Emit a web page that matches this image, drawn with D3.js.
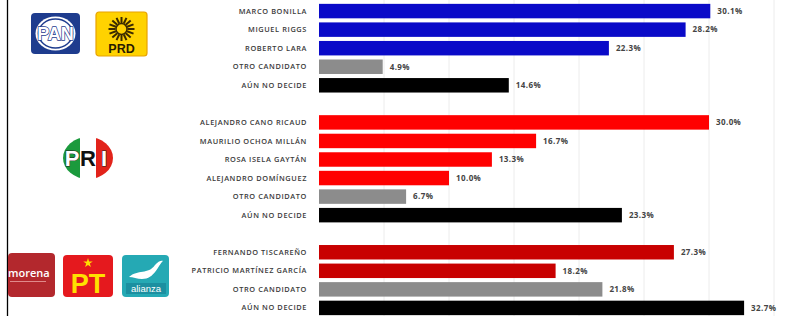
<!DOCTYPE html>
<html>
<head>
<meta charset="utf-8">
<script src="https://cdn.jsdelivr.net/npm/d3@7"></script>
<style>
  body { margin: 0; background: #fff; }
  .name { font-family: "Open Sans", sans-serif; font-size: 7.4px; font-weight: 600; fill: #3a3a3a; letter-spacing: 0.6px; }
  .val { font-family: "Open Sans", sans-serif; font-size: 8px; font-weight: 700; fill: #444; letter-spacing: 0.4px; }
</style>
</head>
<body>
<script>
(function(){

//candidates per alliance
var panNames = ["MARCO BONILLA", "MIGUEL RIGGS", "ROBERTO LARA", "OTRO CANDIDATO", "AÚN NO DECIDE"];
var panValues = [30.1, 28.2, 22.3, 4.9, 14.6];
var panColors = ["#0a0ac8", "#0a0ac8", "#0a0ac8", "#8c8c8c", "#000000"];

var priNames = ["ALEJANDRO CANO RICAUD", "MAURILIO OCHOA MILLÁN", "ROSA ISELA GAYTÁN", "ALEJANDRO DOMÍNGUEZ", "OTRO CANDIDATO", "AÚN NO DECIDE"];
var priValues = [30.0, 16.7, 13.3, 10.0, 6.7, 23.3];
var priColors = ["#ff0000", "#ff0000", "#ff0000", "#ff0000", "#8c8c8c", "#000000"];

var morNames = ["FERNANDO TISCAREÑO", "PATRICIO MARTÍNEZ GARCÍA", "OTRO CANDIDATO", "AÚN NO DECIDE"];
var morValues = [27.3, 18.2, 21.8, 32.7];
var morColors = ["#c80000", "#c80000", "#8c8c8c", "#000000"];

var gridTicks = [5, 10, 15, 20, 25, 30, 35];

var width = 793, height = 316;

//build rows with a spacer between groups
var rows = [];
function addGroup(names, values, colors, g){
    names.forEach(function(n, i){
        rows.push({key: g + "-" + i, name: n, value: values[i], color: colors[i]});
    });
}
addGroup(panNames, panValues, panColors, "pan");
rows.push({key: "gap1", spacer: true});
addGroup(priNames, priValues, priColors, "pri");
rows.push({key: "gap2", spacer: true});
addGroup(morNames, morValues, morColors, "mor");

var svg = d3.select("body").append("svg")
    .attr("width", width)
    .attr("height", height);

var x = d3.scaleLinear().domain([0, 35]).range([319, 774]);

var y = d3.scaleBand()
    .domain(rows.map(function(d){ return d.key; }))
    .range([2, 317])
    .paddingInner(0.22)
    .paddingOuter(0.1);

//gridlines
svg.selectAll(".grid")
    .data(gridTicks)
    .enter()
    .append("line")
    .attr("x1", function(d){ return x(d); })
    .attr("x2", function(d){ return x(d); })
    .attr("y1", 0)
    .attr("y2", height)
    .attr("stroke", "#ececec")
    .attr("stroke-width", 1);

var data = rows.filter(function(d){ return !d.spacer; });

svg.selectAll(".bar")
    .data(data)
    .enter()
    .append("rect")
    .attr("x", x(0))
    .attr("y", function(d){ return y(d.key); })
    .attr("width", function(d){ return x(d.value) - x(0); })
    .attr("height", y.bandwidth())
    .attr("fill", function(d){ return d.color; });

svg.selectAll(".name")
    .data(data)
    .enter()
    .append("text")
    .attr("class", "name")
    .attr("x", 307)
    .attr("y", function(d){ return y(d.key) + y.bandwidth() / 2; })
    .attr("dy", "0.35em")
    .attr("text-anchor", "end")
    .text(function(d){ return d.name; });

svg.selectAll(".val")
    .data(data)
    .enter()
    .append("text")
    .attr("class", "val")
    .attr("x", function(d){ return x(d.value) + 7; })
    .attr("y", function(d){ return y(d.key) + y.bandwidth() / 2; })
    .attr("dy", "0.35em")
    .text(function(d){ return d.value.toFixed(1) + "%"; });

//left border
svg.append("line")
    .attr("x1", 7.5).attr("x2", 7.5)
    .attr("y1", 0).attr("y2", height)
    .attr("stroke", "#000").attr("stroke-width", 1.3);

//---- logos ----
//PAN
var pan = svg.append("g").attr("transform", "translate(31,13)");
pan.append("rect").attr("width", 49).attr("height", 41).attr("rx", 4).attr("fill", "#1e3c8e");
pan.append("ellipse").attr("cx", 24.5).attr("cy", 20.5).attr("rx", 20).attr("ry", 17).attr("fill", "#fff");
pan.append("ellipse").attr("cx", 24.5).attr("cy", 20.5).attr("rx", 17).attr("ry", 14.5).attr("fill", "none").attr("stroke", "#1e3c8e").attr("stroke-width", 1.5);
pan.append("text").attr("x", 24.5).attr("y", 27).attr("text-anchor", "middle")
    .attr("font-family", "Liberation Sans Narrow, Liberation Sans, sans-serif").attr("font-weight", "bold")
    .attr("font-size", 18).attr("fill", "#fff").attr("stroke", "#1e3c8e").attr("stroke-width", 1.4)
    .attr("paint-order", "stroke").text("PAN");

//PRD
var prd = svg.append("g").attr("transform", "translate(96,12)");
prd.append("rect").attr("width", 51).attr("height", 44).attr("rx", 3).attr("fill", "#ffd200").attr("stroke", "#e8a200").attr("stroke-width", 1.2);
var rays = d3.range(16);
prd.selectAll(".ray").data(rays).enter().append("line")
    .attr("x1", function(d){ return 25.5 + 6 * Math.cos(d * Math.PI / 8); })
    .attr("y1", function(d){ return 17 + 6 * Math.sin(d * Math.PI / 8); })
    .attr("x2", function(d){ return 25.5 + 13 * Math.cos(d * Math.PI / 8); })
    .attr("y2", function(d){ return 17 + 12 * Math.sin(d * Math.PI / 8); })
    .attr("stroke", "#3a2a00").attr("stroke-width", 2);
prd.append("circle").attr("cx", 25.5).attr("cy", 17).attr("r", 5.5).attr("fill", "#ffd200").attr("stroke", "#3a2a00").attr("stroke-width", 1.5);
prd.append("text").attr("x", 25.5).attr("y", 41).attr("text-anchor", "middle")
    .attr("font-family", "Liberation Sans, sans-serif").attr("font-weight", "bold")
    .attr("font-size", 12.5).attr("fill", "#2a1a00").text("PRD");

//PRI
var pri = svg.append("g").attr("transform", "translate(88,158)");
svg.append("defs").append("clipPath").attr("id", "priClip")
    .append("ellipse").attr("cx", 0).attr("cy", 0).attr("rx", 25).attr("ry", 21);
var priG = pri.append("g").attr("clip-path", "url(#priClip)");
priG.append("rect").attr("x", -25).attr("y", -21).attr("width", 17).attr("height", 42).attr("fill", "#1b9a3d");
priG.append("rect").attr("x", -8).attr("y", -21).attr("width", 16).attr("height", 42).attr("fill", "#fff");
priG.append("rect").attr("x", 8).attr("y", -21).attr("width", 17).attr("height", 42).attr("fill", "#e2231a");
pri.selectAll(".priL").data(["P", "R", "I"]).enter().append("text")
    .attr("x", function(d, i){ return -16 + i * 16; })
    .attr("y", 8)
    .attr("text-anchor", "middle")
    .attr("font-family", "Liberation Sans, sans-serif").attr("font-weight", "bold")
    .attr("font-size", 22)
    .attr("fill", function(d, i){ return i == 1 ? "#111" : "#fff"; })
    .attr("stroke", "#222").attr("stroke-width", function(d, i){ return i == 1 ? 0 : 1; })
    .attr("paint-order", "stroke")
    .text(function(d){ return d; });

//morena
var mor = svg.append("g").attr("transform", "translate(8,253)");
mor.append("rect").attr("width", 47).attr("height", 44).attr("rx", 4).attr("fill", "#b3282d");
mor.append("text").attr("x", 0).attr("y", 24).attr("font-family", "Open Sans, sans-serif").attr("font-weight", 600)
    .attr("font-size", 11).attr("fill", "#fff").text("morena");
mor.append("rect").attr("x", 2).attr("y", 28).attr("width", 36).attr("height", 1).attr("fill", "#e08a8a");

//PT
var pt = svg.append("g").attr("transform", "translate(63,255)");
pt.append("rect").attr("width", 50).attr("height", 42).attr("rx", 4).attr("fill", "#e5191e");
pt.append("path").attr("d", d3.symbol().type(d3.symbolStar).size(28)).attr("transform", "translate(25,8)").attr("fill", "#ffe000");
pt.append("text").attr("x", 25).attr("y", 38).attr("text-anchor", "middle")
    .attr("font-family", "Liberation Sans, sans-serif").attr("font-weight", "bold")
    .attr("font-size", 27).attr("fill", "#ffe000").text("PT");

//alianza
var al = svg.append("g").attr("transform", "translate(122,255)");
al.append("rect").attr("width", 47).attr("height", 42).attr("rx", 4).attr("fill", "#25a9b4");
al.append("path").attr("d", "M7,22 C16,14 26,20 33,10 C36,6 40,5 41,6 C36,10 33,24 20,24 C15,24 11,22 7,22 Z").attr("fill", "#fff");
al.append("rect").attr("x", 4).attr("y", 28).attr("width", 40).attr("height", 11).attr("fill", "#1c8fa0");
al.append("text").attr("x", 24).attr("y", 37).attr("text-anchor", "middle")
    .attr("font-family", "Liberation Sans, sans-serif")
    .attr("font-size", 9.5).attr("fill", "#fff").text("alianza");

})();
</script>
</body>
</html>
